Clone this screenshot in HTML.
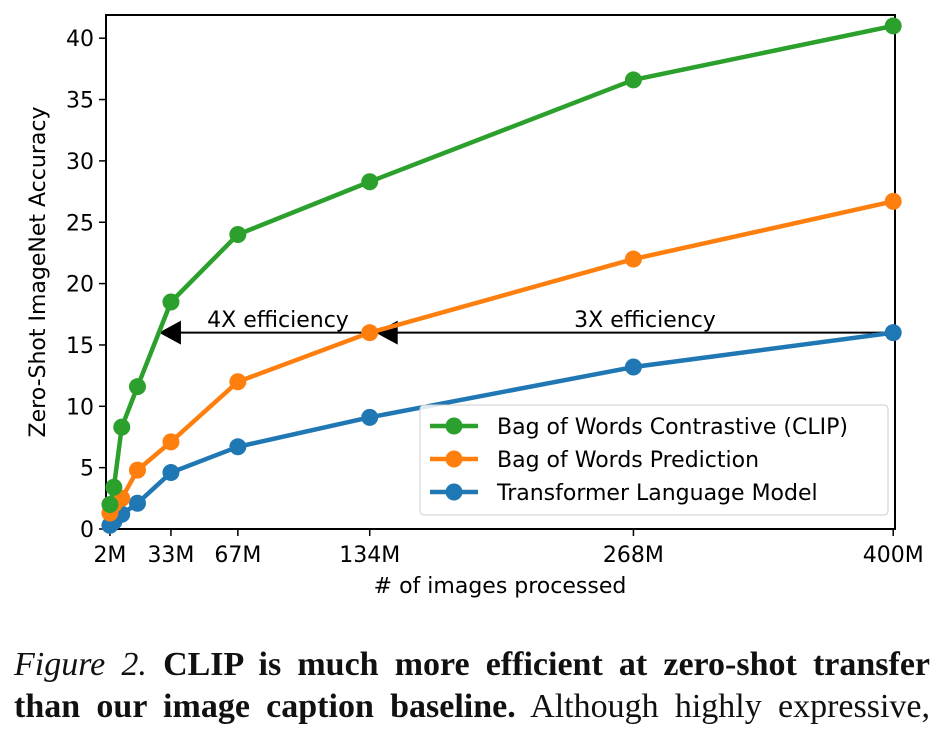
<!DOCTYPE html>
<html><head><meta charset="utf-8"><style>
body{margin:0;background:#fff;width:941px;height:732px;overflow:hidden}
svg text{font-family:"DejaVu Sans","Liberation Sans",sans-serif}
.cap{position:absolute;left:14px;top:644px;width:916px;font-family:"Liberation Serif",serif;font-size:34px;line-height:42px;color:#111}
.cap div{text-align:justify;text-align-last:justify;white-space:nowrap}
</style></head><body>
<svg id="chart" width="941" height="640" style="position:absolute;left:0;top:0"></svg>
<div class="cap"><div><i>Figure 2.</i> <b>CLIP is much more efficient at zero-shot transfer</b></div><div><b>than our image caption baseline.</b> Although highly expressive,</div></div>
<script>
const xVals=[2,4,8,16,33,67,134,268,400];
const clipVals=[2.0,3.4,8.3,11.6,18.5,24.0,28.3,36.6,41.0];
const bowVals=[1.3,2.0,2.5,4.8,7.1,12.0,16.0,22.0,26.7];
const tlmVals=[0.3,0.6,1.2,2.1,4.6,6.7,9.1,13.2,16.0];
const xTicks=[2,33,67,134,268,400];
const xTickLabels=["2M","33M","67M","134M","268M","400M"];
const yTicks=[0,5,10,15,20,25,30,35,40];
const NS="http://www.w3.org/2000/svg";
const svg=document.getElementById('chart');
const L=106,R=895,T=15,B=529;
const xs=v=>L+v*1.968, ys=v=>B-v*12.27;
function el(t,a,p){const e=document.createElementNS(NS,t);for(const k in a)e.setAttribute(k,a[k]);(p||svg).appendChild(e);return e;}
const frame=el('rect',{x:L,y:T,width:R-L,height:B-T,fill:'none',stroke:'#000','stroke-width':2});


yTicks.forEach(v=>{
 const t=el('line',{x1:L-7,x2:L,y1:ys(v),y2:ys(v),stroke:'#000','stroke-width':1.5});
 
 
 const tx=el('text',{x:L-12,y:ys(v)+8,'text-anchor':'end','font-size':22});tx.textContent=v;
 
 
});
xTicks.forEach((v,i)=>{
 const t=el('line',{x1:xs(v),x2:xs(v),y1:B,y2:B+7,stroke:'#000','stroke-width':1.5});
 
 
 const tx=el('text',{x:xs(v),y:B+33,'text-anchor':'middle','font-size':22});tx.textContent=xTickLabels[i];
 
 
});
const xt=el('text',{x:500,y:593,'text-anchor':'middle','font-size':22});xt.textContent='# of images processed';


const yt=el('text',{x:0,y:0,'text-anchor':'middle','font-size':22,transform:'translate(45,272) rotate(-90)'});yt.textContent='Zero-Shot ImageNet Accuracy';


function arrow(x1,x2,y,name){
 const g=el('g',{});
 
 
 el('line',{x1:x1,x2:x2+20,y1:y,y2:y,stroke:'#000','stroke-width':2},g);
 el('polygon',{points:`${x2},${y} ${x2+22},${y-12} ${x2+22},${y+12}`,fill:'#000'},g);
}
const ay=ys(bowVals[6]);
arrow(xs(xVals[6]),xs(xVals[4])-12,ay,'arrow-4x');
arrow(xs(xVals[8]),xs(xVals[6])+6,ay,'arrow-3x');
const a1=el('text',{x:278,y:327,'text-anchor':'middle','font-size':22});a1.textContent='4X efficiency';


const a2=el('text',{x:645,y:327,'text-anchor':'middle','font-size':22});a2.textContent='3X efficiency';


function series(vals,color,name){
 const g=el('g',{});
 
 
 el('polyline',{points:vals.map((v,i)=>xs(xVals[i])+','+ys(v)).join(' '),fill:'none',stroke:color,'stroke-width':4.5,'stroke-linejoin':'round'},g);
 vals.forEach((v,i)=>{const c=el('circle',{cx:xs(xVals[i]),cy:ys(v),r:8.5,fill:color},g);
  
  });
}
series(tlmVals,'#1f77b4','series-transformer');
series(bowVals,'#ff7f0e','series-bow-prediction');
series(clipVals,'#2ca02c','series-clip');
const lg=el('g',{});


el('rect',{x:420,y:405,width:468,height:110,rx:4,fill:'#fff','fill-opacity':0.85,stroke:'#ccc','stroke-width':1},lg);
[['Bag of Words Contrastive (CLIP)','#2ca02c'],['Bag of Words Prediction','#ff7f0e'],['Transformer Language Model','#1f77b4']].forEach((d,i)=>{
 const y=426+i*33;
 const g=el('g',{},lg);
 
 
 el('line',{x1:430,x2:478,y1:y,y2:y,stroke:d[1],'stroke-width':4.5},g);
 el('circle',{cx:454,cy:y,r:8.5,fill:d[1]},g);
 const t=el('text',{x:497,y:y+8,'font-size':22},g);t.textContent=d[0];
});
</script>
</body></html>
